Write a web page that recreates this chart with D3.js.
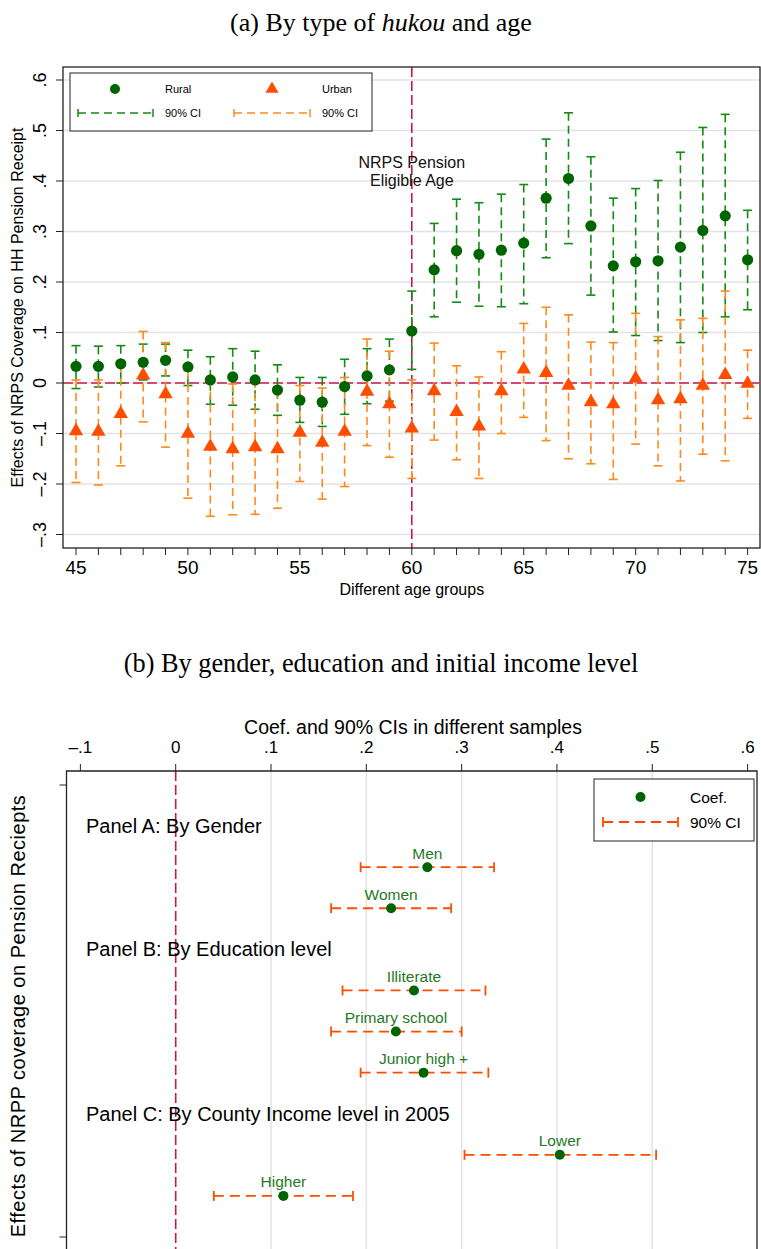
<!DOCTYPE html>
<html>
<head>
<meta charset="utf-8">
<script src="https://cdn.jsdelivr.net/npm/d3@7"></script>
<style>
  body { margin: 0; background: #fff; }
  svg { display: block; font-family: Arial, "Liberation Sans", sans-serif; }
</style>
</head>
<body>
<div id="chart"></div>
<script>
// ---- panel (a) data ----
const ages = [45, 46, 47, 48, 49, 50, 51, 52, 53, 54, 55, 56, 57, 58, 59, 60,
              61, 62, 63, 64, 65, 66, 67, 68, 69, 70, 71, 72, 73, 74, 75];
const ruralCoef = [0.033, 0.033, 0.038, 0.041, 0.045, 0.032, 0.006, 0.012, 0.006, -0.014, -0.034, -0.038, -0.007, 0.014, 0.026, 0.103,
                   0.224, 0.262, 0.255, 0.263, 0.277, 0.366, 0.405, 0.311, 0.232, 0.240, 0.242, 0.269, 0.302, 0.331, 0.244];
const ruralLo = [-0.011, -0.008, 0.0, 0.006, 0.014, -0.005, -0.042, -0.044, -0.052, -0.064, -0.078, -0.086, -0.062, -0.041, -0.036, 0.027,
                 0.131, 0.160, 0.152, 0.151, 0.157, 0.248, 0.276, 0.174, 0.101, 0.094, 0.084, 0.080, 0.100, 0.131, 0.145];
const ruralHi = [0.074, 0.073, 0.074, 0.077, 0.077, 0.065, 0.052, 0.068, 0.063, 0.036, 0.011, 0.011, 0.047, 0.068, 0.087, 0.182,
                 0.316, 0.364, 0.357, 0.374, 0.393, 0.483, 0.535, 0.448, 0.366, 0.385, 0.401, 0.457, 0.506, 0.532, 0.342];
const urbanCoef = [-0.095, -0.096, -0.061, 0.015, -0.022, -0.100, -0.126, -0.131, -0.127, -0.131, -0.098, -0.118, -0.096, -0.017, -0.042, -0.090,
                   -0.016, -0.057, -0.086, -0.016, 0.027, 0.020, -0.005, -0.038, -0.042, 0.009, -0.034, -0.032, -0.005, 0.016, -0.001];
const urbanLo = [-0.197, -0.202, -0.164, -0.077, -0.127, -0.228, -0.264, -0.261, -0.260, -0.248, -0.195, -0.230, -0.205, -0.124, -0.147, -0.189,
                 -0.113, -0.152, -0.189, -0.100, -0.068, -0.114, -0.150, -0.160, -0.191, -0.121, -0.164, -0.194, -0.141, -0.154, -0.070];
const urbanHi = [0.006, 0.006, 0.036, 0.102, 0.080, 0.024, 0.009, -0.002, 0.006, -0.014, -0.005, -0.010, 0.011, 0.087, 0.063, 0.006,
                 0.079, 0.034, 0.012, 0.062, 0.118, 0.150, 0.135, 0.081, 0.080, 0.138, 0.092, 0.125, 0.128, 0.182, 0.065];
const yTicksA = [-0.3, -0.2, -0.1, 0, 0.1, 0.2, 0.3, 0.4, 0.5, 0.6];
const xTicksA = [45, 50, 55, 60, 65, 70, 75];
const eligibleAge = 60;

// ---- panel (b) data ----
const rowsB = ["Panel A: By Gender", "Men", "Women",
               "Panel B: By Education level", "Illiterate", "Primary school", "Junior high +",
               "Panel C: By County Income level in 2005", "Lower", "Higher"];
const groupsB = ["Men", "Women", "Illiterate", "Primary school", "Junior high +", "Lower", "Higher"];
const coefB = [0.264, 0.226, 0.250, 0.231, 0.260, 0.403, 0.113];
const loB   = [0.194, 0.163, 0.175, 0.163, 0.194, 0.303, 0.040];
const hiB   = [0.334, 0.289, 0.325, 0.300, 0.328, 0.504, 0.186];
const xTicksB = [-0.1, 0, 0.1, 0.2, 0.3, 0.4, 0.5, 0.6];
const gridB = [0.1, 0.2, 0.3, 0.4, 0.5];

const fmt = v => v === 0 ? "0" : (v < 0 ? "\u2013" : "") + String(Math.abs(v)).replace(/^0/, "");

const W = 761, H = 1249;
const svg = d3.select("#chart").append("svg")
    .attr("width", W).attr("height", H)
    .attr("viewBox", [0, 0, W, H]);

const green = "#138a13", dkgreen = "#006400", orange = "#ff8a1c",
      redorange = "#ff4d00", crimson = "#c8184f", grid = "#e3e3e3";
const serif = "'Liberation Serif', 'Times New Roman', serif";

// ================= panel (a) =================
const A = { left: 63, right: 760, top: 67, bottom: 548 };

svg.append("text")
    .attr("x", 381).attr("y", 31)
    .attr("text-anchor", "middle")
    .style("font-family", serif)
    .style("font-size", "26px")
    .html('(a) By type of <tspan font-style="italic">hukou</tspan> and age');

const xA = d3.scaleLinear().domain([45, 75]).range([76, 747.6]);
const yA = d3.scaleLinear().domain([0, 0.6]).range([383, 80]);

// gridlines
svg.append("g").selectAll("line")
    .data(yTicksA)
    .join("line")
    .attr("x1", A.left).attr("x2", A.right)
    .attr("y1", d => yA(d)).attr("y2", d => yA(d))
    .attr("stroke", grid).attr("stroke-width", 1.5);

// reference lines
svg.append("line")
    .attr("x1", A.left).attr("x2", A.right)
    .attr("y1", yA(0)).attr("y2", yA(0))
    .attr("stroke", crimson).attr("stroke-width", 1.6)
    .attr("stroke-dasharray", "10,4");
svg.append("line")
    .attr("x1", xA(eligibleAge)).attr("x2", xA(eligibleAge))
    .attr("y1", A.top).attr("y2", A.bottom)
    .attr("stroke", crimson).attr("stroke-width", 1.6)
    .attr("stroke-dasharray", "10,4");

const label = svg.append("text")
    .attr("x", xA(eligibleAge)).attr("y", 168)
    .attr("text-anchor", "middle")
    .style("font-size", "16px").attr("fill", "#111");
label.append("tspan").attr("x", xA(eligibleAge)).text("NRPS Pension");
label.append("tspan").attr("x", xA(eligibleAge)).attr("dy", 18).text("Eligible Age");

// CI bars
function ciBars(g, lo, hi, color, capW) {
    const grp = g.append("g");
    grp.selectAll(".ci")
        .data(ages)
        .join("line")
        .attr("x1", d => xA(d)).attr("x2", d => xA(d))
        .attr("y1", (d, i) => yA(hi[i])).attr("y2", (d, i) => yA(lo[i]))
        .attr("stroke", color).attr("stroke-width", 1.6)
        .attr("stroke-dasharray", "8,5");
    [lo, hi].forEach(arr => {
        grp.append("g").selectAll("line")
            .data(ages)
            .join("line")
            .attr("x1", d => xA(d) - capW / 2).attr("x2", d => xA(d) + capW / 2)
            .attr("y1", (d, i) => yA(arr[i])).attr("y2", (d, i) => yA(arr[i]))
            .attr("stroke", color).attr("stroke-width", 1.6);
    });
}
ciBars(svg, ruralLo, ruralHi, green, 9);
ciBars(svg, urbanLo, urbanHi, orange, 9);

// markers
svg.append("g").selectAll("circle")
    .data(ages)
    .join("circle")
    .attr("cx", d => xA(d)).attr("cy", (d, i) => yA(ruralCoef[i]))
    .attr("r", 5.6).attr("fill", dkgreen);

const tri = d3.symbol().type(d3.symbolTriangle).size(90);
svg.append("g").selectAll("path")
    .data(ages)
    .join("path")
    .attr("d", tri)
    .attr("transform", (d, i) => `translate(${xA(d)},${yA(urbanCoef[i])})`)
    .attr("fill", redorange);

// frame
svg.append("rect")
    .attr("x", A.left).attr("y", A.top)
    .attr("width", A.right - A.left).attr("height", A.bottom - A.top)
    .attr("fill", "none").attr("stroke", "#222").attr("stroke-width", 1.3);

// x axis
const xAxisA = svg.append("g").attr("transform", `translate(0,${A.bottom})`);
xAxisA.selectAll("line")
    .data(ages)
    .join("line")
    .attr("x1", d => xA(d)).attr("x2", d => xA(d))
    .attr("y1", 0).attr("y2", 7)
    .attr("stroke", "#222").attr("stroke-width", 1);
xAxisA.selectAll("text")
    .data(xTicksA)
    .join("text")
    .attr("x", d => xA(d)).attr("y", 26)
    .attr("text-anchor", "middle")
    .style("font-size", "19px")
    .text(d => d);
svg.append("text")
    .attr("x", xA(eligibleAge)).attr("y", 595)
    .attr("text-anchor", "middle")
    .style("font-size", "16px")
    .text("Different age groups");

// y axis
const yAxisA = svg.append("g");
yAxisA.selectAll("line")
    .data(yTicksA)
    .join("line")
    .attr("x1", A.left - 7).attr("x2", A.left)
    .attr("y1", d => yA(d)).attr("y2", d => yA(d))
    .attr("stroke", "#222");
yAxisA.selectAll("text")
    .data(yTicksA)
    .join("text")
    .attr("transform", d => `translate(46,${yA(d)}) rotate(-90)`)
    .attr("text-anchor", "middle")
    .style("font-size", "18px")
    .text(fmt);
svg.append("text")
    .attr("transform", `translate(23,${(A.top + A.bottom) / 2}) rotate(-90)`)
    .attr("text-anchor", "middle")
    .style("font-size", "16px")
    .text("Effects of NRPS Coverage on HH Pension Receipt");

// legend
const legA = svg.append("g");
legA.append("rect")
    .attr("x", 70).attr("y", 73).attr("width", 302).attr("height", 58)
    .attr("fill", "#fff").attr("stroke", "#222").attr("stroke-width", 1);
legA.append("circle").attr("cx", 115).attr("cy", 89).attr("r", 5).attr("fill", dkgreen);
legA.append("path").attr("d", d3.symbol().type(d3.symbolTriangle).size(75))
    .attr("transform", "translate(272,89)").attr("fill", redorange);
[[78, 153, green], [234, 310, orange]].forEach(([x1, x2, c]) => {
    legA.append("line").attr("x1", x1).attr("x2", x2).attr("y1", 113).attr("y2", 113)
        .attr("stroke", c).attr("stroke-width", 1.5).attr("stroke-dasharray", "8,5");
    [x1, x2].forEach(x => legA.append("line").attr("x1", x).attr("x2", x)
        .attr("y1", 109).attr("y2", 117).attr("stroke", c).attr("stroke-width", 1.5));
});
[["Rural", 165, 92.5], ["Urban", 322, 92.5], ["90% CI", 165, 116.5], ["90% CI", 322, 116.5]].forEach(([t, x, y]) =>
    legA.append("text").attr("x", x).attr("y", y).style("font-size", "11px").text(t));

// ================= panel (b) =================
const B = { left: 66.5, right: 757, top: 771, bottom: 1260 };

svg.append("text")
    .attr("x", 381).attr("y", 672)
    .attr("text-anchor", "middle")
    .style("font-family", serif)
    .style("font-size", "26.3px")
    .text("(b) By gender, education and initial income level");

const xB = d3.scaleLinear().domain([0, 0.6]).range([175.7, 747.6]);
const yB = d3.scaleLinear().domain([0, rowsB.length + 1]).range([785, 1237]);
const rowY = name => yB(rowsB.indexOf(name) + 1);

svg.append("g").selectAll("line")
    .data(gridB)
    .join("line")
    .attr("x1", d => xB(d)).attr("x2", d => xB(d))
    .attr("y1", B.top).attr("y2", H)
    .attr("stroke", grid).attr("stroke-width", 1.5);

svg.append("line")
    .attr("x1", xB(0)).attr("x2", xB(0))
    .attr("y1", B.top).attr("y2", H)
    .attr("stroke", crimson).attr("stroke-width", 1.6)
    .attr("stroke-dasharray", "10,4");

// frame (bottom edge runs off the page)
svg.append("path")
    .attr("d", `M${B.left},${H}V${B.top}H${B.right}V${H}`)
    .attr("fill", "none").attr("stroke", "#222").attr("stroke-width", 1.3);

// x axis on top
const xAxisB = svg.append("g");
xAxisB.selectAll("line")
    .data(xTicksB)
    .join("line")
    .attr("x1", d => xB(d)).attr("x2", d => xB(d))
    .attr("y1", B.top - 7).attr("y2", B.top)
    .attr("stroke", "#222");
xAxisB.selectAll("text")
    .data(xTicksB)
    .join("text")
    .attr("x", d => xB(d)).attr("y", B.top - 18)
    .attr("text-anchor", "middle")
    .style("font-size", "17px")
    .text(fmt);
svg.append("text")
    .attr("x", 413).attr("y", 734)
    .attr("text-anchor", "middle")
    .style("font-size", "19.5px")
    .text("Coef. and 90% CIs in different samples");

// y axis: end ticks only
svg.append("g").selectAll("line")
    .data([0, rowsB.length + 1])
    .join("line")
    .attr("x1", B.left - 7).attr("x2", B.left)
    .attr("y1", d => yB(d)).attr("y2", d => yB(d))
    .attr("stroke", "#222");
svg.append("text")
    .attr("transform", `translate(25,${(yB(0) + yB(rowsB.length + 1)) / 2 + 5}) rotate(-90)`)
    .attr("text-anchor", "middle")
    .style("font-size", "20px")
    .style("letter-spacing", "0.5px")
    .text("Effects of NRPP coverage on Pension Reciepts");

// panel headers
svg.append("g").selectAll("text")
    .data(rowsB.filter(r => r.startsWith("Panel")))
    .join("text")
    .attr("x", 86).attr("y", d => rowY(d) + 7)
    .style("font-size", "20px")
    .text(d => d);

// CIs
const ciB = svg.append("g");
ciB.selectAll(".ci")
    .data(groupsB)
    .join("line")
    .attr("x1", (d, i) => xB(loB[i])).attr("x2", (d, i) => xB(hiB[i]))
    .attr("y1", d => rowY(d)).attr("y2", d => rowY(d))
    .attr("stroke", redorange).attr("stroke-width", 1.8)
    .attr("stroke-dasharray", "10,6");
[loB, hiB].forEach(arr => {
    ciB.append("g").selectAll("line")
        .data(groupsB)
        .join("line")
        .attr("x1", (d, i) => xB(arr[i])).attr("x2", (d, i) => xB(arr[i]))
        .attr("y1", d => rowY(d) - 5).attr("y2", d => rowY(d) + 5)
        .attr("stroke", redorange).attr("stroke-width", 1.8);
});

svg.append("g").selectAll("circle")
    .data(groupsB)
    .join("circle")
    .attr("cx", (d, i) => xB(coefB[i])).attr("cy", d => rowY(d))
    .attr("r", 5).attr("fill", dkgreen);

svg.append("g").selectAll("text")
    .data(groupsB)
    .join("text")
    .attr("x", (d, i) => xB(coefB[i])).attr("y", d => rowY(d) - 8.5)
    .attr("text-anchor", "middle")
    .attr("fill", "#1f7a1f")
    .style("font-size", "15.5px")
    .text(d => d);

// legend
const legB = svg.append("g");
legB.append("rect")
    .attr("x", 594).attr("y", 779).attr("width", 160).attr("height", 62)
    .attr("fill", "#fff").attr("stroke", "#222").attr("stroke-width", 1);
legB.append("circle").attr("cx", 640.5).attr("cy", 797).attr("r", 5).attr("fill", dkgreen);
legB.append("line").attr("x1", 603).attr("x2", 678).attr("y1", 822).attr("y2", 822)
    .attr("stroke", redorange).attr("stroke-width", 1.8).attr("stroke-dasharray", "10,6");
[603, 678].forEach(x => legB.append("line").attr("x1", x).attr("x2", x)
    .attr("y1", 817).attr("y2", 827).attr("stroke", redorange).attr("stroke-width", 1.8));
legB.append("text").attr("x", 690).attr("y", 802.5).style("font-size", "15.5px").text("Coef.");
legB.append("text").attr("x", 690).attr("y", 827.5).style("font-size", "15.5px").text("90% CI");
</script>
</body>
</html>
